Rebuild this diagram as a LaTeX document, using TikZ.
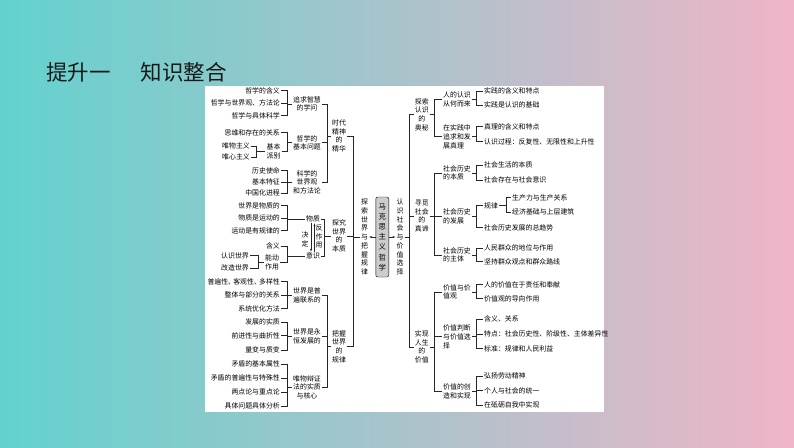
\documentclass[tikz,border=0pt]{standalone}
\usepackage{fontspec}
\setmainfont{Noto Sans CJK SC}
\usetikzlibrary{arrows.meta}
\definecolor{bgteal}{HTML}{62D2CE}
\definecolor{bgmid}{HTML}{D9DEE3}
\definecolor{bgpink}{HTML}{EFB5C8}

\begin{document}
\begin{tikzpicture}[x=1pt, y=-1pt,
    txt/.style=
    {font=\fontsize{6.9}{8.7}\selectfont, inner sep=1pt}, lleaf/.style=
    {txt, anchor=east}, rleaf/.style=
    {txt, anchor=west}, lmid/.style=
    {txt, align=center}, rmid/.style=
    {txt, align=left, anchor=west},
    link/.style={line width=.45pt, black!85},
    core/.style={draw, fill=black!20, rounded corners=2pt, minimum width=13pt,
      minimum height=80pt, inner sep=0pt, align=center,
      font=\fontsize{7.4}{10.2}\selectfont}]
    \useasboundingbox (0,0) rectangle (794,447);
    \shade[left color=bgteal, middle color=bgmid, right color=bgpink] (0,0) rectangle (794,447);
    \fill[white] (205,86) rectangle (604,412);
    \node (title) [anchor=west, inner sep=0, text=black!90, font=\fontsize{21.5}{24}\selectfont]
        at (46,72) {提升一\hspace{1.4em}知识整合};
    % left: 时代精神的精华
    \node (a1) [lleaf] at (281,90.7) {哲学的含义};
    \node (a2) [lleaf] at (281,103.3) {哲学与世界观、方法论};
    \node (a3) [lleaf] at (281,115.7) {哲学与具体科学};
    \node (p11) [lmid] at (307,104) {追求智慧\\的学问};
    \node (a4) [lleaf] at (281,132.7) {思维和存在的关系};
    \node (a5) [lleaf] at (251,146) {唯物主义};
    \node (a6) [lleaf] at (251,157) {唯心主义};
    \node (a7) [lmid] at (273.5,151.5) {基本\\派别};
    \node (p12) [lmid] at (307,142.7) {哲学的\\基本问题};
    \node (a8) [lleaf] at (281,170.7) {历史使命};
    \node (a9) [lleaf] at (281,182) {基本特征};
    \node (a10) [lleaf] at (281,193.3) {中国化进程};
    \node (p13) [lmid] at (307,182.3) {科学的\\世界观\\和方法论};
    \node (g1) [lmid] at (339,136) {时代\\精神\\的\\精华};
    \foreach \n in {a1,a2,a3}
        \draw[link] (\n.east) -| (287,0 |- p11) -- (p11.west);
    \foreach \n in {a5,a6}
        \draw[link] (\n.east) -| (256,0 |- a7) -- (a7.west);
    \foreach \n in {a4,a7}
        \draw[link] (\n.east) -| (287,0 |- p12) -- (p12.west);
    \foreach \n in {a8,a9,a10}
        \draw[link] (\n.east) -| (287,0 |- p13) -- (p13.west);
    \foreach \n in {p11,p12,p13}
        \draw[link] (\n.east) -| (327,0 |- g1) -- (g1.west);
    % left: 探究世界的本质
    \node (b1) [lleaf] at (281,205.7) {世界是物质的};
    \node (b2) [lleaf] at (281,218.3) {物质是运动的};
    \node (b3) [lleaf] at (281,230.7) {运动是有规律的};
    \node (wz) [txt] at (313,219) {物质};
    \node (ys) [txt] at (313,256) {意识};
    \draw[link, -{Stealth[length=3pt, width=2pt]}] ([xshift=-2pt]wz.south) -- ([xshift=-2pt]ys.north);
    \draw[link, -{Stealth[length=3pt, width=2pt]}] ([xshift=1.5pt]ys.north) -- ([xshift=1.5pt]wz.south);
    \node (jd) [lmid] at (305,239.5) {决\\定};
    \node (fzy) [lmid] at (319,236.5) {反\\作\\用};
    \node (b4) [lleaf] at (281,246) {含义};
    \node (b5) [lleaf] at (250,255.7) {认识世界};
    \node (b6) [lleaf] at (250,268) {改造世界};
    \node (b7) [lmid] at (272,262.7) {能动\\作用};
    \node (g2) [lmid] at (339,236) {探究\\世界\\的\\本质};
    \foreach \n in {b1,b2,b3}
        \draw[link] (\n.east) -| (287,0 |- wz) -- (wz.west);
    \foreach \n in {b5,b6}
        \draw[link] (\n.east) -| (258,0 |- b7) -- (b7.west);
    \foreach \n in {b4,b7}
        \draw[link] (\n.east) -| (287,0 |- ys) -- (ys.west);
    \foreach \n in {wz,ys}
        \draw[link] (\n.east) -| (324.5,0 |- g2) -- (g2.west);
    % left: 把握世界的规律
    \node (c1) [lleaf] at (281,281.7) {普遍性、\kern-1.8pt客观性、\kern-1.8pt多样性};
    \node (c2) [lleaf] at (281,295) {整体与部分的关系};
    \node (c3) [lleaf] at (281,308.7) {系统优化方法};
    \node (p31) [lmid] at (307,295.2) {世界是普\\遍联系的};
    \node (c4) [lleaf] at (281,322) {发展的实质};
    \node (c5) [lleaf] at (281,335.7) {前进性与曲折性};
    \node (c6) [lleaf] at (281,350) {量变与质变};
    \node (p32) [lmid] at (307,336.7) {世界是永\\恒发展的};
    \node (c7) [lleaf] at (281,364) {矛盾的基本属性};
    \node (c8) [lleaf] at (281,378.3) {矛盾的普遍性与特殊性};
    \node (c9) [lleaf] at (281,392.3) {两点论与重点论};
    \node (c10) [lleaf] at (281,406) {具体问题具体分析};
    \node (p33) [lmid] at (307,387.3) {唯物辩证\\法的实质\\与核心};
    \node (g3) [lmid] at (339,346.5) {把握\\世界\\的\\规律};
    \foreach \n in {c1,c2,c3}
        \draw[link] (\n.east) -| (287,0 |- p31) -- (p31.west);
    \foreach \n in {c4,c5,c6}
        \draw[link] (\n.east) -| (287,0 |- p32) -- (p32.west);
    \foreach \n in {c7,c8,c9,c10}
        \draw[link] (\n.east) -| (287,0 |- p33) -- (p33.west);
    \foreach \n in {p31,p32,p33}
        \draw[link] (\n.east) -| (327,0 |- g3) -- (g3.west);
    % centre
    \node (lcol) [lmid] at (364.5,237) {探\\索\\世\\界\\与\\把\\握\\规\\律};
    \node (core) [core] at (382.3,237) {马\\克\\思\\主\\义\\哲\\学};
    \node (rcol) [lmid] at (400,237) {认\\识\\社\\会\\与\\价\\值\\选\\择};
    \foreach \n in {g1,g2,g3}
        \draw[link] (\n.east) -| (353,0 |- lcol) -- (lcol.west);
    \draw[link, -{Stealth[length=3pt, width=2pt]}] (core.west) -- (lcol.east);
    \draw[link, -{Stealth[length=3pt, width=2pt]}] (core.east) -- (rcol.west);
    % right
    \node (h1) [lmid] at (421.8,114.5) {探索\\认识\\的\\奥秘};
    \node (h2) [lmid] at (421.8,216) {寻觅\\社会\\的\\真谛};
    \node (h3) [lmid] at (421.8,347) {实现\\人生\\的\\价值};
    \foreach \n in {h1,h2,h3}
        \draw[link] (rcol.east) -- (409,0 |- rcol) |- (\n.west);
    % right: 探索认识的奥秘
    \node (q11) [rmid] at (442,99.5) {人的认识\\从何而来};
    \node (q12) [rmid] at (442,136.7) {在实践中\\追求和发\\展真理};
    \node (r1) [rleaf] at (483,91) {实践的含义和特点};
    \node (r2) [rleaf] at (483,105.3) {实践是认识的基础};
    \node (r3) [rleaf] at (483,126.7) {真理的含义和特点};
    \node (r4) [rleaf] at (483,141.7) {认识过程：反复性、无限性和上升性};
    \foreach \n in {q11,q12}
        \draw[link] (h1.east) -- (434.5,0 |- h1) |- (\n.west);
    \foreach \n in {r1,r2}
        \draw[link] (q11.east) -- (476,0 |- q11) |- (\n.west);
    \foreach \n in {r3,r4}
        \draw[link] (q12.east) -- (476,0 |- q12) |- (\n.west);
    % right: 寻觅社会的真谛
    \node (q21) [rmid] at (442,172.8) {社会历史\\的本质};
    \node (q22) [rmid] at (442,216.3) {社会历史\\的发展};
    \node (q23) [rmid] at (442,255) {社会历史\\的主体};
    \node (r5) [rleaf] at (483,165) {社会生活的本质};
    \node (r6) [rleaf] at (483,180) {社会存在与社会意识};
    \node (gl) [rleaf] at (483,205.7) {规律};
    \node (r7) [rleaf] at (511,197.7) {生产力与生产关系};
    \node (r8) [rleaf] at (511,212.3) {经济基础与上层建筑};
    \node (r9) [rleaf] at (483,227.7) {社会历史发展的总趋势};
    \node (r10) [rleaf] at (483,248.3) {人民群众的地位与作用};
    \node (r11) [rleaf] at (483,261.7) {坚持群众观点和群众路线};
    \foreach \n in {q21,q22,q23}
        \draw[link] (h2.east) -- (434.5,0 |- h2) |- (\n.west);
    \foreach \n in {r5,r6}
        \draw[link] (q21.east) -- (476,0 |- q21) |- (\n.west);
    \foreach \n in {gl,r9}
        \draw[link] (q22.east) -- (476,0 |- q22) |- (\n.west);
    \foreach \n in {r7,r8}
        \draw[link] (gl.east) -- (506,0 |- gl) |- (\n.west);
    \foreach \n in {r10,r11}
        \draw[link] (q23.east) -- (476,0 |- q23) |- (\n.west);
    % right: 实现人生的价值
    \node (q31) [rmid] at (442,291.8) {价值与价\\值观};
    \node (q32) [rmid] at (442,336.7) {价值判断\\与价值选\\择};
    \node (q33) [rmid] at (442,391.7) {价值的创\\造和实现};
    \node (r12) [rleaf] at (483,284.5) {人的价值在于责任和奉献};
    \node (r13) [rleaf] at (483,298.7) {价值观的导向作用};
    \node (r14) [rleaf] at (483,319.3) {含义、关系};
    \node (r15) [rleaf] at (483,334) {特点：社会历史性、阶级性、主体差异性};
    \node (r16) [rleaf] at (483,348.7) {标准：规律和人民利益};
    \node (r17) [rleaf] at (483,376) {弘扬劳动精神};
    \node (r18) [rleaf] at (483,390.7) {个人与社会的统一};
    \node (r19) [rleaf] at (483,405.3) {在砥砺自我中实现};
    \foreach \n in {q31,q32,q33}
        \draw[link] (h3.east) -- (434.5,0 |- h3) |- (\n.west);
    \foreach \n in {r12,r13}
        \draw[link] (q31.east) -- (476,0 |- q31) |- (\n.west);
    \foreach \n in {r14,r15,r16}
        \draw[link] (q32.east) -- (476,0 |- q32) |- (\n.west);
    \foreach \n in {r17,r18,r19}
        \draw[link] (q33.east) -- (476,0 |- q33) |- (\n.west);
\end{tikzpicture}
\end{document}
